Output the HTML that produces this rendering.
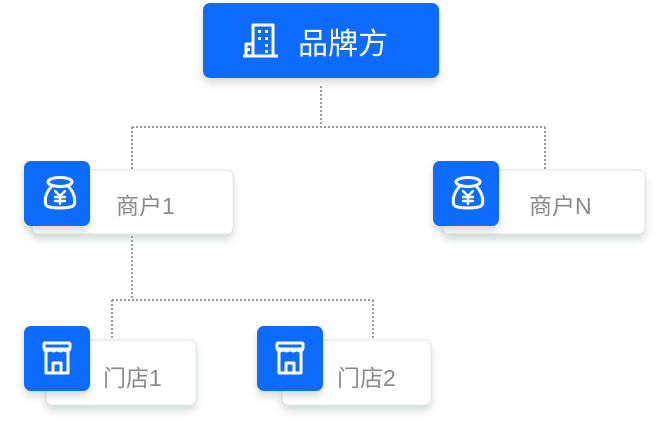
<!DOCTYPE html>
<html><head><meta charset="utf-8"><style>
html,body{margin:0;padding:0;background:#fff;}
body{width:670px;height:420px;position:relative;overflow:hidden;font-family:"Liberation Sans","Noto Sans CJK SC",sans-serif;}
</style></head><body>
<svg width="670" height="420" viewBox="0 0 670 420" xmlns="http://www.w3.org/2000/svg">
<defs>
<filter id="sh" x="-20%" y="-20%" width="140%" height="160%">
<feDropShadow dx="0" dy="5" stdDeviation="4" flood-color="#9fb2ab" flood-opacity="0.45"/>
</filter>
<g id="bag" fill="none" stroke="#fff" stroke-width="3" stroke-linecap="round" stroke-linejoin="round">
<ellipse cx="0" cy="-12" rx="12" ry="4.5"/>
<path d="M-8,-8 C-14,-2 -16,6 -14,11 C-12,15 12,15 14,11 C16,6 14,-2 8,-8"/>
<path d="M-5,-3 L0,2 L5,-3 M0,2 V10 M-5,3 H5 M-5,7 H5" stroke-width="2.4"/>
</g>
<g id="shop" fill="none" stroke="#fff" stroke-width="3" stroke-linejoin="round">
<rect x="-13" y="-16" width="26" height="6" rx="1"/>
<path d="M-13,-10 Q-9.7,-6 -6.5,-10 Q-3.2,-6 0,-10 Q3.2,-6 6.5,-10 Q9.7,-6 13,-10"/>
<path d="M-11,-8 V14 H11 V-8"/>
<path d="M-4,14 V4 H4 V14"/>
</g>
</defs>
<g stroke="#999" stroke-width="2" stroke-dasharray="2,2" fill="none">
<path d="M321,86 V127 M132,127 H545 M132,127 V170 M545,127 V170"/>
<path d="M132,236 V300 M112,300 H373 M112,300 V340 M373,300 V340"/>
</g>
<rect x="203" y="3" width="236" height="75" rx="7" fill="#0a6cff" filter="url(#sh)"/>
<g fill="none" stroke="#fff" stroke-width="3" stroke-linejoin="round">
<path d="M243,56 H278"/>
<path d="M253,56 V25 H273 V56"/>
<path d="M246,56 V44 H253"/>
</g>
<g fill="#fff"><rect x="258" y="30" width="3" height="3"/><rect x="265" y="30" width="3" height="3"/><rect x="258" y="37" width="3" height="3"/><rect x="265" y="37" width="3" height="3"/><rect x="265" y="44" width="3" height="3"/><rect x="265" y="50" width="3" height="3"/><rect x="247" y="48" width="3" height="3"/></g>
<text x="298" y="54" font-size="30" fill="#fff">品牌方</text>

<rect x="32" y="170" width="201" height="64" rx="6" fill="#fff" stroke="#e3e6e6" filter="url(#sh)"/>
<rect x="24" y="161" width="66" height="65" rx="7" fill="#0a6cff" filter="url(#sh)"/>
<use href="#bag" x="60" y="194"/>
<text x="116" y="214" font-size="23" fill="#8a8a8a">商户1</text>

<rect x="443" y="170" width="202" height="64" rx="6" fill="#fff" stroke="#e3e6e6" filter="url(#sh)"/>
<rect x="433" y="161" width="66" height="65" rx="7" fill="#0a6cff" filter="url(#sh)"/>
<use href="#bag" x="468" y="194"/>
<text x="529" y="214" font-size="23" fill="#8a8a8a">商户N</text>

<rect x="46" y="340" width="150" height="65" rx="6" fill="#fff" stroke="#e3e6e6" filter="url(#sh)"/>
<rect x="24" y="326" width="66" height="65" rx="7" fill="#0a6cff" filter="url(#sh)"/>
<use href="#shop" x="57" y="359"/>
<text x="103" y="386" font-size="23" fill="#8a8a8a">门店1</text>

<rect x="282" y="340" width="149" height="65" rx="6" fill="#fff" stroke="#e3e6e6" filter="url(#sh)"/>
<rect x="257" y="326" width="66" height="65" rx="7" fill="#0a6cff" filter="url(#sh)"/>
<use href="#shop" x="290" y="359"/>
<text x="337" y="386" font-size="23" fill="#8a8a8a">门店2</text>
</svg>
</body></html>
